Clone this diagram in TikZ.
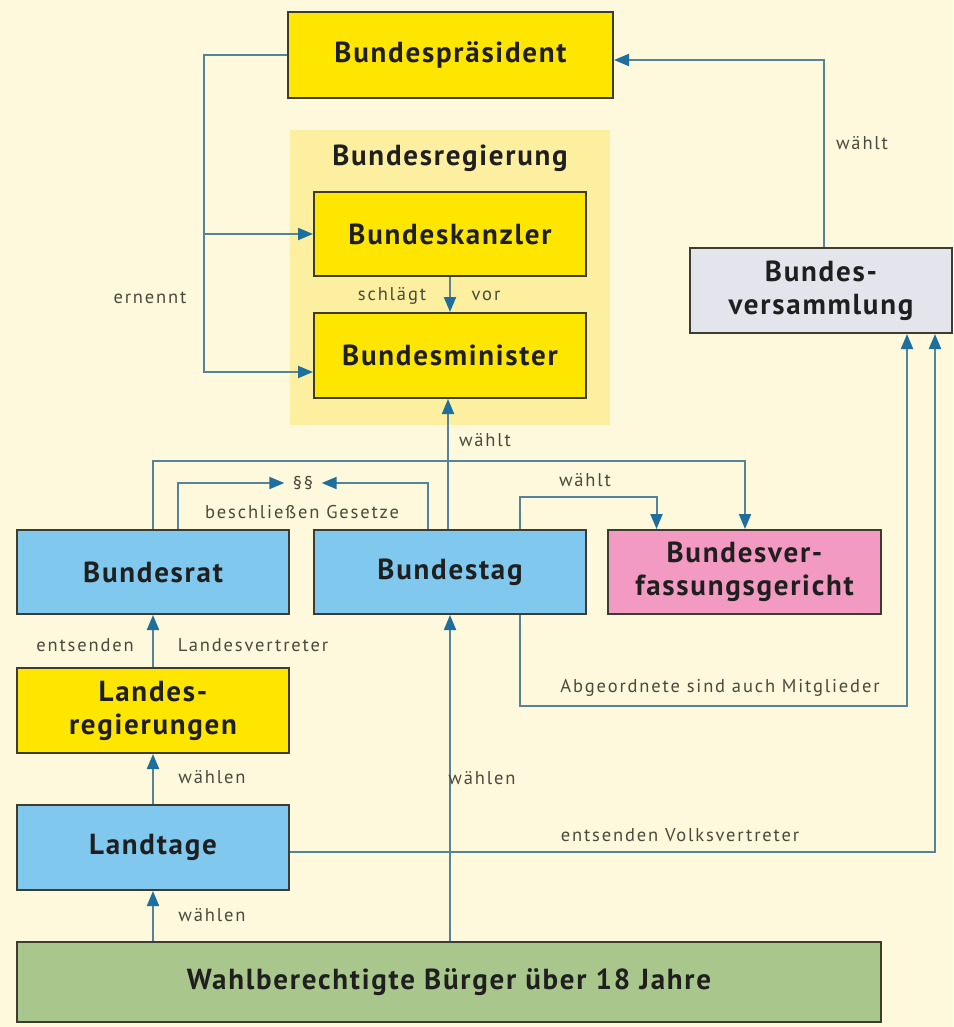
\documentclass[tikz,border=0pt]{standalone}
\usepackage{fontspec}
\setmainfont{PT Sans}
\newfontfamily\boxfont[LetterSpace=6]{PT Sans}
\newfontfamily\labfont[LetterSpace=10]{PT Sans}
\usetikzlibrary{arrows.meta,calc}
\definecolor{bgcream}{HTML}{FEF9DC}
\definecolor{regbg}{HTML}{FCEFA0}
\definecolor{byellow}{HTML}{FFE600}
\definecolor{bblue}{HTML}{80C8EE}
\definecolor{bpink}{HTML}{F29AC2}
\definecolor{bgrey}{HTML}{E4E4EC}
\definecolor{bgreen}{HTML}{A9C78C}
\definecolor{edgec}{HTML}{3C3C30}
\definecolor{linec}{HTML}{55839A}
\definecolor{tipc}{HTML}{1E6E9E}
\definecolor{labc}{HTML}{4A4A3C}
\tikzset{
  box/.style={draw=edgec, line width=2pt, align=center, inner sep=0pt,
    font=\boxfont\fontsize{29}{33}\selectfont\bfseries, text=black!88},
  yb/.style={box, fill=byellow},
  blb/.style={box, fill=bblue},
  conn/.style={draw=linec, line width=2pt},
  arr/.style={conn, -{Triangle[length=15pt,width=12pt,color=tipc]}},
  lab/.style={font=\labfont\fontsize{18.5}{21}\selectfont, text=labc, inner sep=0pt}
}
\begin{document}
\begin{tikzpicture}[x=1pt,y=-1pt]
\fill[bgcream] (0,0) rectangle (953,1027);
\useasboundingbox (0,0) rectangle (953,1027);
% Bundesregierung background
\node[fill=regbg, minimum width=320pt, minimum height=295pt, inner sep=0pt] (breg) at (450,277.5) {};
\node[font=\boxfont\fontsize{29}{33}\selectfont\bfseries, text=black!88, inner sep=0pt] (bregl) at (450,158) {Bundesregierung};
% boxes
\node[yb, minimum width=325pt, minimum height=86pt] (bp) at (450.5,55) {Bundespräsident};
\node[yb, minimum width=272pt, minimum height=84pt] (bk) at (450,234) {Bundeskanzler};
\node[yb, minimum width=272pt, minimum height=85pt] (bm) at (450,355.5) {Bundesminister};
\node[box, fill=bgrey, minimum width=262pt, minimum height=85pt] (bv) at (821,290.5) {Bundes-\\versammlung};
\node[blb, minimum width=272pt, minimum height=84pt] (brat) at (153,572) {Bundesrat};
\node[blb, minimum width=272pt, minimum height=84pt] (btag) at (450,572) {Bundestag};
\node[box, fill=bpink, minimum width=273pt, minimum height=84pt] (bvg) at (744.5,572) {Bundesver-\\fassungsgericht};
\node[yb, minimum width=272pt, minimum height=85pt] (lreg) at (153,710.5) {Landes-\\regierungen};
\node[blb, minimum width=272pt, minimum height=85pt] (ltag) at (153,847.5) {Landtage};
\node[box, fill=bgreen, minimum width=864pt, minimum height=80pt] (wb) at (449,982) {Wahlberechtigte Bürger über 18 Jahre};
% ernennt
\coordinate (ek) at (204,0);
\coordinate (mb) at ([yshift=-16.5pt]bm.west);
\draw[arr] (bp.west) -| (ek |- mb) -- (mb);
\draw[arr] (ek |- bk.west) -- (bk.west);
\node[lab] (lernennt) at (150,298) {ernennt};
% schlägt vor
\draw[arr] (bk.south) -- (bm.north);
\node[lab] (lschl) at (392,296) {schlägt};
\node[lab] (lvor) at (486,296) {vor};
% Bundesversammlung waehlt Bundespraesident
\draw[arr] ([xshift=3pt]bv.north) |- ([yshift=-5pt]bp.east);
\node[lab] (lw1) at (862,143) {wählt};
% Bundesrat outer to BVerfG
\draw[arr] (brat.north) -- ++(0,-68) -| ([xshift=0.5pt]bvg.north);
% paragraphs
\node[lab, minimum width=37pt] (pp) at (303,483) {\S\S};
\draw[arr] ([xshift=25pt]brat.north) |- (pp.west);
\draw[arr] ([xshift=-22pt]btag.north) |- (pp.east);
\node[lab] (lgesetz) at (302,512) {beschließen Gesetze};
% Bundestag waehlt Bundesminister
\draw[arr] ([xshift=-2pt]btag.north) -- ([xshift=-2pt]bm.south);
\node[lab] (lw2) at (485,440) {wählt};
% Bundestag waehlt BVerfG
\draw[arr] ([xshift=70pt]btag.north) -- ++(0,-32) -| ([xshift=-88pt]bvg.north);
\node[lab] (lw3) at (585,480) {wählt};
% Landesregierungen -> Bundesrat
\draw[arr] (lreg.north) -- (brat.south);
\node[lab] (lents) at (85,645) {entsenden};
\node[lab] (llv) at (253,645) {Landesvertreter};
% Landtage -> Landesregierungen
\draw[arr] (ltag.north) -- (lreg.south);
\node[lab] (lw4) at (212,777) {wählen};
% Buerger -> Landtage
\draw[arr] (wb.north -| ltag.north) -- (ltag.south);
\node[lab] (lw5) at (212,915) {wählen};
% Buerger -> Bundestag
\draw[arr] (wb.north -| btag.north) -- (btag.south);
\node[lab] (lw6) at (482,778) {wählen};
% Landtage -> Bundesversammlung
\draw[arr] ([yshift=-4pt]ltag.east) -| ([xshift=114pt]bv.south);
\node[lab] (lvv) at (680,835) {entsenden Volksvertreter};
% Bundestag -> Bundesversammlung
\draw[arr] ([xshift=70pt]btag.south) -- ++(0,91) -| ([xshift=86pt]bv.south);
\node[lab] (labg) at (720,688) {Abgeordnete sind auch Mitglieder};
\end{tikzpicture}
\end{document}
